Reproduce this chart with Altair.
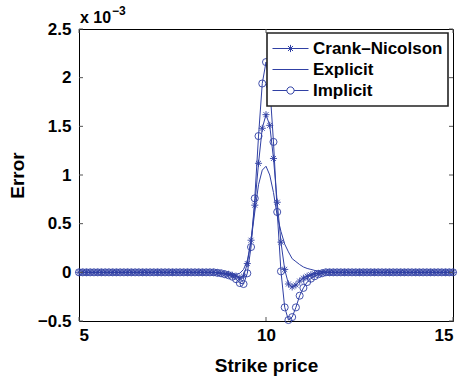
import altair as alt
import pandas as pd

strike = [
    5.0, 5.1, 5.2, 5.3, 5.4, 5.5, 5.6, 5.7, 5.8, 5.9,
    6.0, 6.1, 6.2, 6.3, 6.4, 6.5, 6.6, 6.7, 6.8, 6.9,
    7.0, 7.1, 7.2, 7.3, 7.4, 7.5, 7.6, 7.7, 7.8, 7.9,
    8.0, 8.1, 8.2, 8.3, 8.4, 8.5, 8.6, 8.7, 8.8, 8.9,
    9.0, 9.1, 9.2, 9.3, 9.4, 9.5, 9.6, 9.7, 9.8, 9.9,
    10.0, 10.1, 10.2, 10.3, 10.4, 10.5, 10.6, 10.7, 10.8, 10.9,
    11.0, 11.1, 11.2, 11.3, 11.4, 11.5, 11.6, 11.7, 11.8, 11.9,
    12.0, 12.1, 12.2, 12.3, 12.4, 12.5, 12.6, 12.7, 12.8, 12.9,
    13.0, 13.1, 13.2, 13.3, 13.4, 13.5, 13.6, 13.7, 13.8, 13.9,
    14.0, 14.1, 14.2, 14.3, 14.4, 14.5, 14.6, 14.7, 14.8, 14.9,
    15.0,
]

# errors in units of 1e-3
crank_nicolson = [
    0, 0, 0, 0, 0, 0, 0, 0, 0, 0,
    0, 0, 0, 0, 0, 0, 0, 0, 0, 0,
    0, 0, 0, 0, 0, 0, 0, 0, 0, 0,
    0, 0, 0, 0, 0, 0, 0, -0.005, -0.01, -0.015,
    -0.02, -0.03, -0.04, -0.06, -0.04, 0.09, 0.33, 0.69, 1.12, 1.48,
    1.62, 1.51, 1.17, 0.72, 0.31, 0.03, -0.12, -0.15, -0.13, -0.09,
    -0.06, -0.04, -0.025, -0.015, -0.01, -0.005, 0, 0, 0, 0,
    0, 0, 0, 0, 0, 0, 0, 0, 0, 0,
    0, 0, 0, 0, 0, 0, 0, 0, 0, 0,
    0, 0, 0, 0, 0, 0, 0, 0, 0, 0,
    0,
]

explicit = [
    0, 0, 0, 0, 0, 0, 0, 0, 0, 0,
    0, 0, 0, 0, 0, 0, 0, 0, 0, 0,
    0, 0, 0, 0, 0, 0, 0, 0, 0, 0,
    0, 0, 0, 0, 0, 0, 0, -0.003, -0.006, -0.01,
    -0.015, -0.02, -0.02, -0.01, 0.03, 0.12, 0.32, 0.62, 0.90, 1.05,
    1.09, 1.00, 0.82, 0.58, 0.42, 0.29, 0.21, 0.14, 0.11, 0.08,
    0.055, 0.04, 0.03, 0.02, 0.013, 0.008, 0.005, 0.003, 0, 0,
    0, 0, 0, 0, 0, 0, 0, 0, 0, 0,
    0, 0, 0, 0, 0, 0, 0, 0, 0, 0,
    0, 0, 0, 0, 0, 0, 0, 0, 0, 0,
    0,
]

implicit = [
    0, 0, 0, 0, 0, 0, 0, 0, 0, 0,
    0, 0, 0, 0, 0, 0, 0, 0, 0, 0,
    0, 0, 0, 0, 0, 0, 0, 0, 0, 0,
    0, 0, 0, 0, 0, 0, 0, -0.005, -0.01, -0.02,
    -0.03, -0.045, -0.07, -0.11, -0.12, -0.01, 0.26, 0.76, 1.40, 1.94,
    2.16, 1.92, 1.34, 0.62, 0.01, -0.36, -0.49, -0.46, -0.36, -0.24,
    -0.16, -0.10, -0.065, -0.04, -0.02, -0.01, 0, 0, 0, 0,
    0, 0, 0, 0, 0, 0, 0, 0, 0, 0,
    0, 0, 0, 0, 0, 0, 0, 0, 0, 0,
    0, 0, 0, 0, 0, 0, 0, 0, 0, 0,
    0,
]

series_names = ["Crank\u2013Nicolson", "Explicit", "Implicit"]
x_ticks = [5, 10, 15]
y_ticks = [-0.5, 0, 0.5, 1, 1.5, 2, 2.5]

BLUE = "#3040a4"
FONT = "Liberation Sans"
W, H = 374, 292

df = pd.DataFrame({
    "strike": strike * 3,
    "error": crank_nicolson + explicit + implicit,
    "series": [series_names[0]] * len(strike)
    + [series_names[1]] * len(strike)
    + [series_names[2]] * len(strike),
})

xs = alt.Scale(domain=[5, 15], nice=False, zero=False)
ys = alt.Scale(domain=[-0.5, 2.5], nice=False, zero=False)

x_enc = alt.X("strike:Q", scale=xs, title="Strike price",
              axis=alt.Axis(values=x_ticks, format="d", tickSize=0, domain=False,
                            grid=False, labelPadding=6, titlePadding=13))
y_enc = alt.Y("error:Q", scale=ys, title="Error",
              axis=alt.Axis(values=y_ticks, format=".1~f", tickSize=0, domain=False,
                            grid=False, labelPadding=8, titlePadding=10))

base = alt.Chart(df)

lines = base.mark_line(color=BLUE, strokeWidth=1).encode(
    x=x_enc, y=y_enc, detail="series:N", order="strike:Q"
)

ASTERISK = "M-1,0L1,0M0,-1L0,1M-0.7,-0.7L0.7,0.7M-0.7,0.7L0.7,-0.7"
cn_pts = base.transform_filter(alt.datum.series == series_names[0]).mark_point(
    shape=ASTERISK, size=50, filled=False, color=BLUE, strokeWidth=0.9, opacity=1
).encode(x="strike:Q", y="error:Q")

im_pts = base.transform_filter(alt.datum.series == series_names[2]).mark_point(
    shape="circle", size=50, filled=False, color=BLUE, strokeWidth=0.9, opacity=1
).encode(x="strike:Q", y="error:Q")

legend_paths = [
    "M-1,0L1,0M-0.2,0L0.2,0M0,-0.2L0,0.2M-0.14,-0.14L0.14,0.14M-0.14,0.14L0.14,-0.14",
    "M-1,0L1,0",
    "M-1,0L-0.2,0M0.2,0L1,0M0.2,0A0.2,0.2,0,1,1,-0.2,0A0.2,0.2,0,1,1,0.2,0",
]
legend_layer = base.transform_filter("false").mark_point(
    filled=False, color=BLUE
).encode(
    x="strike:Q", y="error:Q",
    shape=alt.Shape("series:N", scale=alt.Scale(domain=series_names, range=legend_paths),
                    legend=alt.Legend(
                        title=None, orient="none", legendX=188, legendY=4,
                        symbolSize=1296, symbolStrokeColor=BLUE, symbolStrokeWidth=1,
                        symbolFillColor="transparent", labelFont=FONT, labelFontSize=17,
                        labelFontWeight="bold", labelColor="black", labelOffset=4,
                        clipHeight=21, rowPadding=0, padding=5, strokeColor="#222222",
                        fillColor="white", symbolOpacity=1,
                    )),
)

tick_df_y = pd.DataFrame({"v": y_ticks})
tick_df_x = pd.DataFrame({"v": x_ticks})
tick_color = "#555555"
left_ticks = alt.Chart(tick_df_y).mark_rule(color=tick_color, strokeWidth=1).encode(
    y=alt.Y("v:Q", scale=ys), x=alt.value(0), x2=alt.value(4))
right_ticks = alt.Chart(tick_df_y).mark_rule(color=tick_color, strokeWidth=1).encode(
    y=alt.Y("v:Q", scale=ys), x=alt.value(W - 4), x2=alt.value(W))
bottom_ticks = alt.Chart(tick_df_x).mark_rule(color=tick_color, strokeWidth=1).encode(
    x=alt.X("v:Q", scale=xs), y=alt.value(H - 4), y2=alt.value(H))
top_ticks = alt.Chart(tick_df_x).mark_rule(color=tick_color, strokeWidth=1).encode(
    x=alt.X("v:Q", scale=xs), y=alt.value(0), y2=alt.value(4))

exp_df = pd.DataFrame({"a": ["x 10"], "b": ["\u22123"]})
exp_main = alt.Chart(exp_df).mark_text(
    align="left", baseline="alphabetic", font=FONT, fontSize=16, fontWeight="bold", color="black"
).encode(x=alt.value(1), y=alt.value(-6), text="a:N")
exp_sup = alt.Chart(exp_df).mark_text(
    align="left", baseline="alphabetic", font=FONT, fontSize=12, fontWeight="bold", color="black"
).encode(x=alt.value(33), y=alt.value(-14), text="b:N")

chart = alt.layer(
    lines, cn_pts, im_pts, legend_layer,
    left_ticks, right_ticks, bottom_ticks, top_ticks,
    exp_main, exp_sup,
).properties(
    width=W, height=H,
    background="white",
    autosize=alt.AutoSizeParams(type="none"),
    padding={"left": 79, "top": 29, "right": 14, "bottom": 56},
).configure_view(
    stroke="black", strokeWidth=1
).configure_legend(
    strokeWidth=1.6
).configure_axis(
    labelFont=FONT, labelFontSize=17, labelFontWeight="bold", labelColor="black",
    titleFont=FONT, titleFontSize=19, titleFontWeight="bold", titleColor="black",
)

chart.save("out.html", embed_options={"renderer": "svg", "actions": False})
